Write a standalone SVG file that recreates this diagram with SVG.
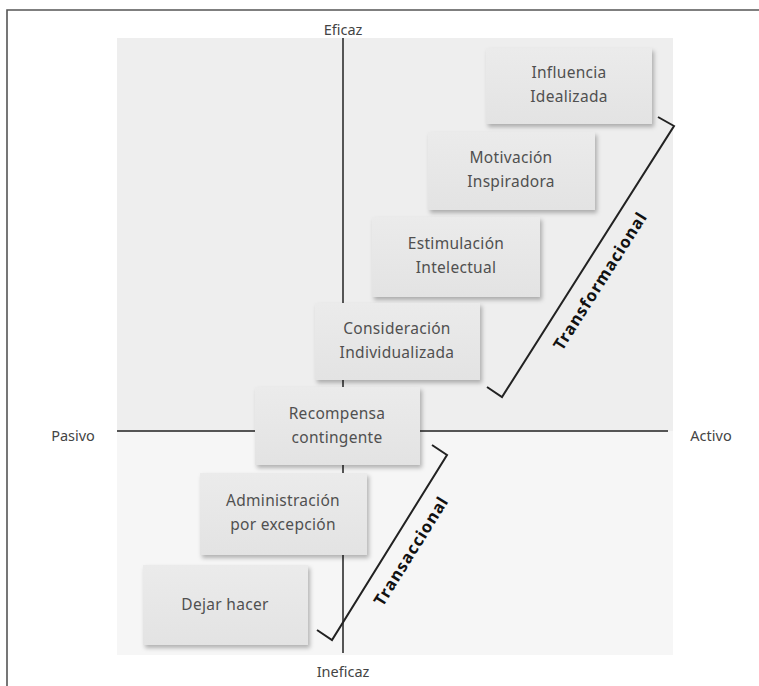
<svg xmlns="http://www.w3.org/2000/svg" width="759" height="686" viewBox="0 0 759 686">
<defs>
<filter id="sh" x="-10%" y="-10%" width="125%" height="130%">
<feDropShadow dx="2" dy="3" stdDeviation="2" flood-color="#000" flood-opacity="0.28"/>
</filter>
<linearGradient id="bx" x1="0" y1="0" x2="0" y2="1">
<stop offset="0" stop-color="#ebebeb"/>
<stop offset="1" stop-color="#e3e3e3"/>
</linearGradient>
</defs>
<style>
.box{fill:url(#bx);filter:url(#sh);}
.t{font-family:"Noto Sans","DejaVu Sans",sans-serif;font-size:15.5px;letter-spacing:0.3px;fill:#505050;text-anchor:middle;}
.ax{font-family:"Noto Sans","DejaVu Sans",sans-serif;font-size:14.5px;fill:#444;text-anchor:middle;}
.lb{font-family:"Noto Sans","DejaVu Sans",sans-serif;font-size:16.5px;font-weight:bold;letter-spacing:1px;fill:#111;text-anchor:middle;}
.axis{stroke:#555;stroke-width:2;fill:none;}
.br{stroke:#222;stroke-width:2;fill:none;}
</style>
<rect width="759" height="686" fill="#fff"/>
<path d="M7,686 V10 H759" fill="none" stroke="#555" stroke-width="1.6"/>
<rect x="117" y="38" width="556" height="393" fill="#eeeeee"/>
<rect x="117" y="431" width="556" height="224" fill="#f6f6f6"/>
<g id="axes">
<line class="axis" x1="343" y1="38" x2="343" y2="653"/>
<line class="axis" x1="117" y1="431" x2="668" y2="431"/>
<text class="ax" x="343" y="35">Eficaz</text>
<text class="ax" x="343" y="677">Ineficaz</text>
<text class="ax" x="73" y="441">Pasivo</text>
<text class="ax" x="711" y="441">Activo</text>
</g>
<g id="n1"><rect class="box" x="486" y="48" width="166" height="76"/><text class="t" x="569" y="78">Influencia</text><text class="t" x="569" y="102">Idealizada</text></g>
<g id="n2"><rect class="box" x="428" y="132" width="167" height="78"/><text class="t" x="511" y="163">Motivación</text><text class="t" x="511" y="187">Inspiradora</text></g>
<g id="n3"><rect class="box" x="372" y="217" width="168" height="80"/><text class="t" x="456" y="249">Estimulación</text><text class="t" x="456" y="273">Intelectual</text></g>
<g id="n4"><rect class="box" x="315" y="303" width="165" height="77"/><text class="t" x="397" y="334">Consideración</text><text class="t" x="397" y="358">Individualizada</text></g>
<g id="n5"><rect class="box" x="255" y="387" width="165" height="78"/><text class="t" x="337" y="419">Recompensa</text><text class="t" x="337" y="443">contingente</text></g>
<g id="n6"><rect class="box" x="200" y="473" width="167" height="82"/><text class="t" x="283" y="506">Administración</text><text class="t" x="283" y="530">por excepción</text></g>
<g id="n7"><rect class="box" x="143" y="565" width="165" height="80"/><text class="t" x="225" y="610">Dejar hacer</text></g>
<g id="connectors">
<path class="br" d="M658,117 L674,126 L502,397 L487,387"/>
<path class="br" d="M432,445 L447,455 L332,640 L317,630"/>
<text class="lb" transform="translate(605,284) rotate(-57.6)">Transformacional</text>
<text class="lb" transform="translate(416,554) rotate(-58)">Transaccional</text>
</g>
</svg>
